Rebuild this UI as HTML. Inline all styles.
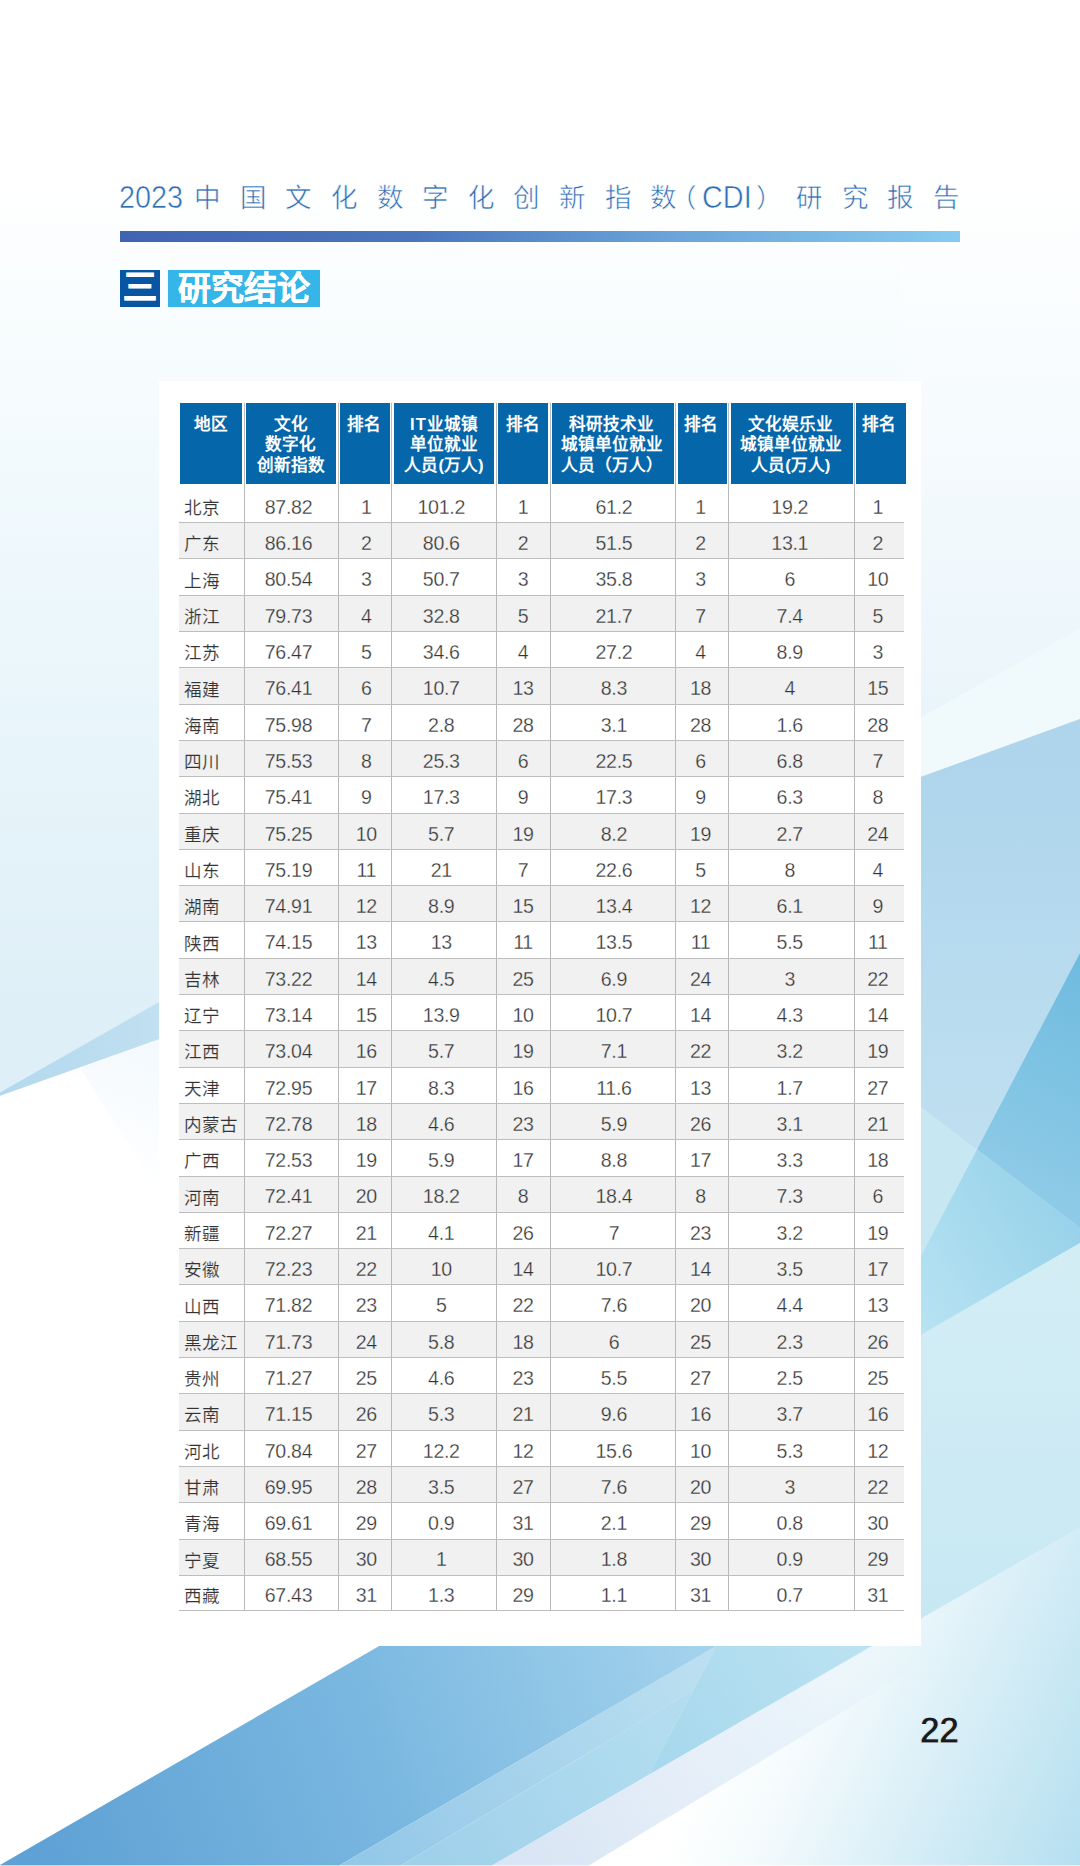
<!DOCTYPE html>
<html lang="zh-CN">
<head>
<meta charset="utf-8">
<title>2023中国文化数字化创新指数(CDI)研究报告</title>
<style>
html,body{margin:0;padding:0}
body{width:1080px;height:1866px;position:relative;overflow:hidden;background:#fff;font-family:"Liberation Sans",sans-serif;color:#3a3a3a}
#bg{position:absolute;left:0;top:0;width:1080px;height:1866px}
#title{position:absolute;left:0;top:178px;width:1080px;height:40px;color:#2f6db6}
#title span{position:absolute;top:0;line-height:40px;white-space:nowrap;font-size:26.5px;letter-spacing:19.6px;-webkit-text-stroke:0.55px #fdfeff}
#title .n{font-size:31px;letter-spacing:0;top:0;transform:scale(0.93,1);transform-origin:0 50%}
#bar{position:absolute;left:120px;top:231px;width:840px;height:11px;background:linear-gradient(90deg,#4164b1 0%,#4a75bc 35%,#6aa3d8 65%,#86cbef 100%)}
#sec1{position:absolute;left:120px;top:270px;width:40px;-webkit-text-stroke:0.8px #fff;height:37px;background:#0855a4;color:#fff;font-weight:900;font-size:34px;line-height:35px;text-align:center;overflow:hidden}
#sec2{position:absolute;left:167.5px;top:270px;width:152.5px;height:37px;-webkit-text-stroke:0.5px #fff;background:#36b5e8;color:#fff;font-weight:900;font-size:32.8px;line-height:37.6px;text-align:center;overflow:hidden;white-space:nowrap}
#card{position:absolute;left:159px;top:380.6px;width:761.8px;height:1265.9px;background:#fff}
#hd{position:absolute;left:0;top:0}
#hd div{position:absolute;top:403px;height:80.5px;background:#0566a9;color:#fff;font-weight:700;font-size:16.6px;line-height:20.3px;text-align:center;padding-top:12px;box-sizing:border-box;white-space:nowrap}
table{position:absolute;left:179px;top:486.4px;border-collapse:collapse;table-layout:fixed;width:725px}
td{height:36.31px;padding:5.6px 0 0 0;-webkit-text-stroke:0.3px #fff;text-align:center;font-size:19.6px;border-bottom:1.3px solid #bdbdbd;border-left:1.3px solid #b8b8b8;box-sizing:border-box;white-space:nowrap;color:#333;letter-spacing:-0.3px}
td:nth-child(2),td:nth-child(4){padding-right:5px}
td:nth-child(3){padding-left:3px}
td:nth-child(6){padding-left:2.4px}
td:nth-child(7),td:nth-child(8),td:nth-child(9){padding-right:3px}
td.r{-webkit-text-stroke-width:0.15px;text-align:left;padding-left:4.6px;padding-top:4px;border-left:none;font-size:17.6px;color:#333;letter-spacing:0}
tr.s td{background:#f1f1f1;-webkit-text-stroke-color:#f1f1f1}
tr:last-child td{height:34.9px;padding-top:5.8px}
tr:last-child td.r{padding-top:4.2px}
#hd i{position:absolute;top:403px;height:84px;width:1.3px;background:#bdbdbd}
#pn{position:absolute;left:919.8px;top:1710.8px;font-size:36.5px;font-weight:700;color:#1c1a1a;line-height:40px;letter-spacing:-1px;-webkit-text-stroke:0.9px #dff0f7}
</style>
</head>
<body>
<svg id="bg" viewBox="0 0 1080 1866" width="1080" height="1866">
<defs>
<linearGradient id="gv" gradientUnits="userSpaceOnUse" x1="0" y1="0" x2="0" y2="1866"><stop offset="0.09" stop-color="#ffffff"/><stop offset="0.3" stop-color="#eef8fc"/><stop offset="0.55" stop-color="#deeff7"/><stop offset="1" stop-color="#deeff7"/></linearGradient>
<linearGradient id="gr" gradientUnits="userSpaceOnUse" x1="0" y1="0" x2="0" y2="1866"><stop offset="0.09" stop-color="#ffffff"/><stop offset="0.25" stop-color="#f4fafd"/><stop offset="0.4" stop-color="#e8f4fa"/></linearGradient>
<linearGradient id="gC" gradientUnits="userSpaceOnUse" x1="0" y1="760" x2="0" y2="1200"><stop offset="0" stop-color="#aed5ec"/><stop offset="1" stop-color="#c2e1f1"/></linearGradient>
<linearGradient id="gD" gradientUnits="userSpaceOnUse" x1="1080" y1="960" x2="960" y2="1200"><stop offset="0" stop-color="#6fbbdf"/><stop offset="1" stop-color="#93cde8"/></linearGradient>
<linearGradient id="gF" gradientUnits="userSpaceOnUse" x1="1080" y1="1230" x2="920" y2="1330"><stop offset="0" stop-color="#98d2ea"/><stop offset="1" stop-color="#b7e3f2"/></linearGradient>
<linearGradient id="gB" gradientUnits="userSpaceOnUse" x1="40" y1="1866" x2="700" y2="1650"><stop offset="0" stop-color="#5fa1d5"/><stop offset="0.5" stop-color="#79b7e0"/><stop offset="1" stop-color="#a3d2ec"/></linearGradient>
<linearGradient id="gB2" gradientUnits="userSpaceOnUse" x1="370" y1="1866" x2="700" y2="1670"><stop offset="0" stop-color="#94c8e8"/><stop offset="1" stop-color="#bbdff0"/></linearGradient>
<linearGradient id="gB3" gradientUnits="userSpaceOnUse" x1="440" y1="1866" x2="670" y2="1730"><stop offset="0" stop-color="#a0d1eb"/><stop offset="1" stop-color="#b3ddef"/></linearGradient>
<linearGradient id="gB4" gradientUnits="userSpaceOnUse" x1="660" y1="1760" x2="860" y2="1640"><stop offset="0" stop-color="#a7d8ed"/><stop offset="1" stop-color="#bbe2f1"/></linearGradient>
<linearGradient id="gW" gradientUnits="userSpaceOnUse" x1="650" y1="1866" x2="1002" y2="2031.5"><stop offset="0" stop-color="#ffffff"/><stop offset="0.22" stop-color="#f5fbfd"/><stop offset="0.6" stop-color="#d5edf6"/><stop offset="1" stop-color="#b5dff0"/></linearGradient>
<linearGradient id="gBand" gradientUnits="userSpaceOnUse" x1="540" y1="1850" x2="960" y2="1640"><stop offset="0" stop-color="#c3d6ee" stop-opacity="0.62"/><stop offset="0.6" stop-color="#d5e6f5" stop-opacity="0.45"/><stop offset="1" stop-color="#e6f3fa" stop-opacity="0"/></linearGradient>
<linearGradient id="gG" gradientUnits="userSpaceOnUse" x1="0" y1="1280" x2="0" y2="1620"><stop offset="0" stop-color="#d3edf5"/><stop offset="1" stop-color="#c7e8f3"/></linearGradient>
<linearGradient id="gS" gradientUnits="userSpaceOnUse" x1="170" y1="1050" x2="120" y2="1180"><stop offset="0" stop-color="#f3f9fd"/><stop offset="1" stop-color="#ffffff"/></linearGradient>
<linearGradient id="gWd" gradientUnits="userSpaceOnUse" x1="0" y1="0" x2="160" y2="0"><stop offset="0" stop-color="#b3d8ee"/><stop offset="1" stop-color="#c1e0f1"/></linearGradient>
</defs>
<rect width="1080" height="1866" fill="url(#gv)"/>
<rect x="900" width="180" height="1866" fill="url(#gr)"/>
<!-- left: white below L2, wedge between L1 and L2 -->
<polygon points="0,1095.8 200,1024.4 600,1024 600,1866 0,1866" fill="#ffffff"/>
<polygon points="80,1067.5 200,1024.4 200,1260" fill="url(#gS)"/>
<polygon points="0,1092.5 200,978.7 200,1024.4 0,1095.8" fill="url(#gWd)"/>
<!-- right light band between L0 and L2 -->
<polygon points="900,729 1080,628 1080,719 900,784.5" fill="#f0f9fc"/>
<!-- right big polygon below L2 -->
<polygon points="900,784.5 1080,719 1080,1300 900,1300" fill="url(#gC)"/>
<!-- E: below L4 left of L3 -->
<polygon points="900,1091 1080,1228 1080,1400 900,1400" fill="#c7e8f3"/>
<!-- D: right of L3 above L4 -->
<polygon points="1080,953 1080,1228 977,1149.5" fill="url(#gD)"/>
<!-- F: right of L3 below L4 -->
<polygon points="977,1149.5 1080,1228 1080,1243 900,1347 900,1296" fill="url(#gF)"/>
<!-- G: below L5 -->
<polygon points="900,1347 1080,1243 1080,1866 900,1866" fill="url(#gG)"/>
<!-- below L6 -->
<polygon points="1080,1527 491,1866 1080,1866" fill="url(#gW)"/>
<!-- below Lc -->
<polygon points="1080,1527 491,1866 588,1866 1080,1568" fill="url(#gBand)"/>
<!-- bottom-left big polygon -->
<polygon points="0,1865 400,1634 737,1634 338.4,1866 0,1866" fill="url(#gB)"/>
<polygon points="737,1634 722.8,1634 693.3,1690 400,1866 338.4,1866" fill="url(#gB2)"/>
<polygon points="693.3,1690 649,1774.5 491,1866 400,1866" fill="url(#gB3)"/>
<polygon points="722.8,1634 892,1634 649,1774.5" fill="url(#gB4)"/>
<rect y="1865" width="1080" height="1" fill="#ffffff" fill-opacity="0.6"/>
</svg>
<div id="title"><span class="n" style="left:119px">2023</span><span style="left:194.25px">中国文化数字化创新指数</span><span style="left:669.5px">（</span><span class="n" style="left:702.3px">CDI</span><span style="left:756px">）</span><span style="left:795.95px">研究报告</span></div>
<div id="bar"></div>
<div id="sec1">三</div>
<div id="sec2">研究结论</div>
<div id="card"></div>
<div id="hd">
<div style="left:179.5px;width:62px">地区</div>
<div style="left:245.5px;width:90px">文化<br>数字化<br>创新指数</div>
<div style="left:340px;width:50px;padding-right:2px">排名</div>
<div style="left:394px;width:100px"><span style="letter-spacing:1.2px">IT</span>业城镇<br>单位就业<br>人员(万人)</div>
<div style="left:498px;width:50px">排名</div>
<div style="left:552px;width:122px;padding-right:3px">科研技术业<br>城镇单位就业<br>人员（万人）</div>
<div style="left:677.5px;width:49px;padding-right:3px">排名</div>
<div style="left:730.5px;width:122px;padding-right:1.5px">文化娱乐业<br>城镇单位就业<br>人员(万人)</div>
<div style="left:856px;width:50px;padding-right:4px">排名</div>
<i style="left:244px"></i><i style="left:338px"></i><i style="left:391px"></i><i style="left:496px"></i><i style="left:550px"></i><i style="left:675px"></i><i style="left:728px"></i><i style="left:854px"></i>
</div>
<table>
<colgroup><col style="width:65px"><col style="width:94px"><col style="width:53.5px"><col style="width:104.5px"><col style="width:54px"><col style="width:125.5px"><col style="width:53px"><col style="width:125.5px"><col style="width:50px"></colgroup>
<tr><td class="r">北京</td><td>87.82</td><td>1</td><td>101.2</td><td>1</td><td>61.2</td><td>1</td><td>19.2</td><td>1</td></tr>
<tr class="s"><td class="r">广东</td><td>86.16</td><td>2</td><td>80.6</td><td>2</td><td>51.5</td><td>2</td><td>13.1</td><td>2</td></tr>
<tr><td class="r">上海</td><td>80.54</td><td>3</td><td>50.7</td><td>3</td><td>35.8</td><td>3</td><td>6</td><td>10</td></tr>
<tr class="s"><td class="r">浙江</td><td>79.73</td><td>4</td><td>32.8</td><td>5</td><td>21.7</td><td>7</td><td>7.4</td><td>5</td></tr>
<tr><td class="r">江苏</td><td>76.47</td><td>5</td><td>34.6</td><td>4</td><td>27.2</td><td>4</td><td>8.9</td><td>3</td></tr>
<tr class="s"><td class="r">福建</td><td>76.41</td><td>6</td><td>10.7</td><td>13</td><td>8.3</td><td>18</td><td>4</td><td>15</td></tr>
<tr><td class="r">海南</td><td>75.98</td><td>7</td><td>2.8</td><td>28</td><td>3.1</td><td>28</td><td>1.6</td><td>28</td></tr>
<tr class="s"><td class="r">四川</td><td>75.53</td><td>8</td><td>25.3</td><td>6</td><td>22.5</td><td>6</td><td>6.8</td><td>7</td></tr>
<tr><td class="r">湖北</td><td>75.41</td><td>9</td><td>17.3</td><td>9</td><td>17.3</td><td>9</td><td>6.3</td><td>8</td></tr>
<tr class="s"><td class="r">重庆</td><td>75.25</td><td>10</td><td>5.7</td><td>19</td><td>8.2</td><td>19</td><td>2.7</td><td>24</td></tr>
<tr><td class="r">山东</td><td>75.19</td><td>11</td><td>21</td><td>7</td><td>22.6</td><td>5</td><td>8</td><td>4</td></tr>
<tr class="s"><td class="r">湖南</td><td>74.91</td><td>12</td><td>8.9</td><td>15</td><td>13.4</td><td>12</td><td>6.1</td><td>9</td></tr>
<tr><td class="r">陕西</td><td>74.15</td><td>13</td><td>13</td><td>11</td><td>13.5</td><td>11</td><td>5.5</td><td>11</td></tr>
<tr class="s"><td class="r">吉林</td><td>73.22</td><td>14</td><td>4.5</td><td>25</td><td>6.9</td><td>24</td><td>3</td><td>22</td></tr>
<tr><td class="r">辽宁</td><td>73.14</td><td>15</td><td>13.9</td><td>10</td><td>10.7</td><td>14</td><td>4.3</td><td>14</td></tr>
<tr class="s"><td class="r">江西</td><td>73.04</td><td>16</td><td>5.7</td><td>19</td><td>7.1</td><td>22</td><td>3.2</td><td>19</td></tr>
<tr><td class="r">天津</td><td>72.95</td><td>17</td><td>8.3</td><td>16</td><td>11.6</td><td>13</td><td>1.7</td><td>27</td></tr>
<tr class="s"><td class="r">内蒙古</td><td>72.78</td><td>18</td><td>4.6</td><td>23</td><td>5.9</td><td>26</td><td>3.1</td><td>21</td></tr>
<tr><td class="r">广西</td><td>72.53</td><td>19</td><td>5.9</td><td>17</td><td>8.8</td><td>17</td><td>3.3</td><td>18</td></tr>
<tr class="s"><td class="r">河南</td><td>72.41</td><td>20</td><td>18.2</td><td>8</td><td>18.4</td><td>8</td><td>7.3</td><td>6</td></tr>
<tr><td class="r">新疆</td><td>72.27</td><td>21</td><td>4.1</td><td>26</td><td>7</td><td>23</td><td>3.2</td><td>19</td></tr>
<tr class="s"><td class="r">安徽</td><td>72.23</td><td>22</td><td>10</td><td>14</td><td>10.7</td><td>14</td><td>3.5</td><td>17</td></tr>
<tr><td class="r">山西</td><td>71.82</td><td>23</td><td>5</td><td>22</td><td>7.6</td><td>20</td><td>4.4</td><td>13</td></tr>
<tr class="s"><td class="r">黑龙江</td><td>71.73</td><td>24</td><td>5.8</td><td>18</td><td>6</td><td>25</td><td>2.3</td><td>26</td></tr>
<tr><td class="r">贵州</td><td>71.27</td><td>25</td><td>4.6</td><td>23</td><td>5.5</td><td>27</td><td>2.5</td><td>25</td></tr>
<tr class="s"><td class="r">云南</td><td>71.15</td><td>26</td><td>5.3</td><td>21</td><td>9.6</td><td>16</td><td>3.7</td><td>16</td></tr>
<tr><td class="r">河北</td><td>70.84</td><td>27</td><td>12.2</td><td>12</td><td>15.6</td><td>10</td><td>5.3</td><td>12</td></tr>
<tr class="s"><td class="r">甘肃</td><td>69.95</td><td>28</td><td>3.5</td><td>27</td><td>7.6</td><td>20</td><td>3</td><td>22</td></tr>
<tr><td class="r">青海</td><td>69.61</td><td>29</td><td>0.9</td><td>31</td><td>2.1</td><td>29</td><td>0.8</td><td>30</td></tr>
<tr class="s"><td class="r">宁夏</td><td>68.55</td><td>30</td><td>1</td><td>30</td><td>1.8</td><td>30</td><td>0.9</td><td>29</td></tr>
<tr><td class="r">西藏</td><td>67.43</td><td>31</td><td>1.3</td><td>29</td><td>1.1</td><td>31</td><td>0.7</td><td>31</td></tr>
</table>
<div id="pn">22</div>
</body>
</html>
